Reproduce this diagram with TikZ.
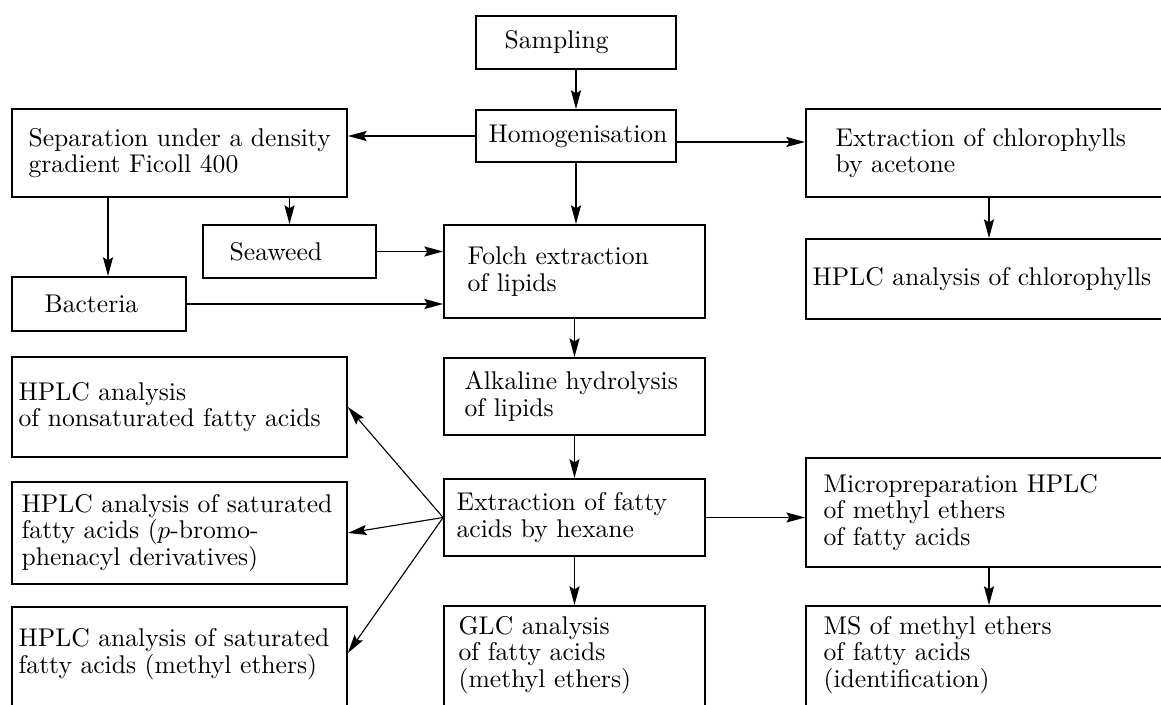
\documentclass[tikz,border=0pt]{standalone}
\usepackage{tikz}
\usetikzlibrary{arrows.meta}
\tikzset{
  proc/.style={rectangle, draw=black, line width=0.7pt, inner sep=0pt},
  lbl/.style={anchor=west, align=left, inner sep=0pt, font={\fontsize{10.25}{10.7}\selectfont}}
}
\tikzstyle{arrow} = [line width=0.7pt,black,-{Stealth[length=7.5pt,width=4pt,inset=1.2pt]}]
\tikzstyle{thinarrow} = [line width=0.45pt,black,-{Stealth[length=7.5pt,width=4pt,inset=1.2pt]}]

\begin{document}
\begin{tikzpicture}[x=0.4pt,y=-0.4pt]
    \useasboundingbox (0,0) rectangle (1161,705);
    % boxes
    \node [proc, minimum width=80pt, minimum height=21.2pt] (samp) at (576,42.5) {};
    \node [proc, minimum width=80pt, minimum height=20.8pt] (homog) at (576,136) {};
    \node [proc, minimum width=134pt, minimum height=35.2pt] (sep) at (179.5,153) {};
    \node [proc, minimum width=146.4pt, minimum height=35.2pt] (chl) at (989,153) {};
    \node [proc, minimum width=146.4pt, minimum height=32pt] (hplcchl) at (989,279) {};
    \node [proc, minimum width=69.2pt, minimum height=21.2pt] (seaweed) at (289.5,251.5) {};
    \node [proc, minimum width=104.4pt, minimum height=37.2pt] (folch) at (574.5,271.5) {};
    \node [proc, minimum width=69.6pt, minimum height=21.6pt] (bact) at (99,304) {};
    \node [proc, minimum width=104.4pt, minimum height=30.8pt] (alk) at (574.5,396.5) {};
    \node [proc, minimum width=134pt, minimum height=40pt] (nonsat) at (179.5,407) {};
    \node [proc, minimum width=104.4pt, minimum height=30.8pt] (hex) at (574.5,517.5) {};
    \node [proc, minimum width=146.4pt, minimum height=43.6pt] (micro) at (989,512.5) {};
    \node [proc, minimum width=134pt, minimum height=40.8pt] (pbromo) at (179.5,533) {};
    \node [proc, minimum width=134pt, minimum height=41.2pt] (methyl) at (179.5,658.5) {};
    \node [proc, minimum width=104.4pt, minimum height=41.6pt] (glc) at (574.5,658) {};
    \node [proc, minimum width=146.4pt, minimum height=41.6pt] (ms) at (989,658) {};
    % texts
    \node [lbl] (samp-t) at ([xshift=11.6pt]samp.west) {Sampling};
    \node [lbl] (homog-t) at ([xshift=5.2pt]homog.west) {Homogenisation};
    \node [lbl] (sep-t) at ([xshift=6.8pt]sep.west) {Separation under a density\\gradient Ficoll 400};
    \node [lbl] (chl-t) at ([xshift=12pt]chl.west) {Extraction of chlorophylls\\by acetone};
    \node [lbl] (hplcchl-t) at ([xshift=2.8pt]hplcchl.west) {HPLC analysis of chlorophylls};
    \node [lbl] (seaweed-t) at ([xshift=10.8pt]seaweed.west) {Seaweed};
    \node [lbl] (folch-t) at ([xshift=9.6pt]folch.west) {Folch extraction\\of lipids};
    \node [lbl] (bact-t) at ([xshift=13.2pt]bact.west) {Bacteria};
    \node [lbl] (alk-t) at ([xshift=8.4pt]alk.west) {Alkaline hydrolysis\\of lipids};
    \node [lbl] (nonsat-t) at ([xshift=2.8pt]nonsat.west) {HPLC analysis\\of nonsaturated fatty acids};
    \node [lbl] (hex-t) at ([xshift=5.2pt]hex.west) {Extraction of fatty\\acids by hexane};
    \node [lbl] (micro-t) at ([xshift=7.2pt]micro.west) {Micropreparation HPLC\\of methyl ethers\\of fatty acids};
    \node [lbl] (pbromo-t) at ([xshift=4pt]pbromo.west) {HPLC analysis of saturated\\fatty acids ($p$-bromo-\\phenacyl derivatives)};
    \node [lbl] (methyl-t) at ([xshift=2.8pt,yshift=1.6pt]methyl.west) {HPLC analysis of saturated\\fatty acids (methyl ethers)};
    \node [lbl] (glc-t) at ([xshift=6pt,yshift=1.2pt]glc.west) {GLC analysis\\of fatty acids\\(methyl ethers)};
    \node [lbl] (ms-t) at ([xshift=7.2pt,yshift=1.2pt]ms.west) {MS of methyl ethers\\of fatty acids\\(identification)};
    % arrows
    \coordinate (bact-in) at ([xshift=3.6pt]bact.north);
    \draw [arrow] (samp) -- (homog);
    \draw [arrow] (homog) -- (homog -| sep.east);
    \draw [arrow] ([yshift=-2.4pt]homog.east) -- ([yshift=-2.4pt]homog.east -| chl.west);
    \draw [arrow] (chl) -- (hplcchl);
    \draw [arrow] (sep.south -| seaweed.north) -- (seaweed.north);
    \draw [arrow] (sep.south -| bact-in) -- (bact-in);
    \draw [arrow] (homog) -- (homog |- folch.north);
    \draw [arrow] (seaweed) -- (seaweed -| folch.west);
    \draw [arrow] (bact) -- (bact -| folch.west);
    \draw [arrow] (folch) -- (alk);
    \draw [arrow] (alk) -- (hex);
    \draw [arrow] (hex) -- (glc);
    \draw [thinarrow] (hex) -- (hex -| micro.west);
    \draw [arrow] (micro) -- (ms);
    \draw [thinarrow] (hex.west) -- (nonsat.east);
    \draw [thinarrow] (hex.west) -- (pbromo.east);
    \draw [thinarrow] (hex.west) -- ([yshift=2.2pt]methyl.east);
\end{tikzpicture}
\end{document}
